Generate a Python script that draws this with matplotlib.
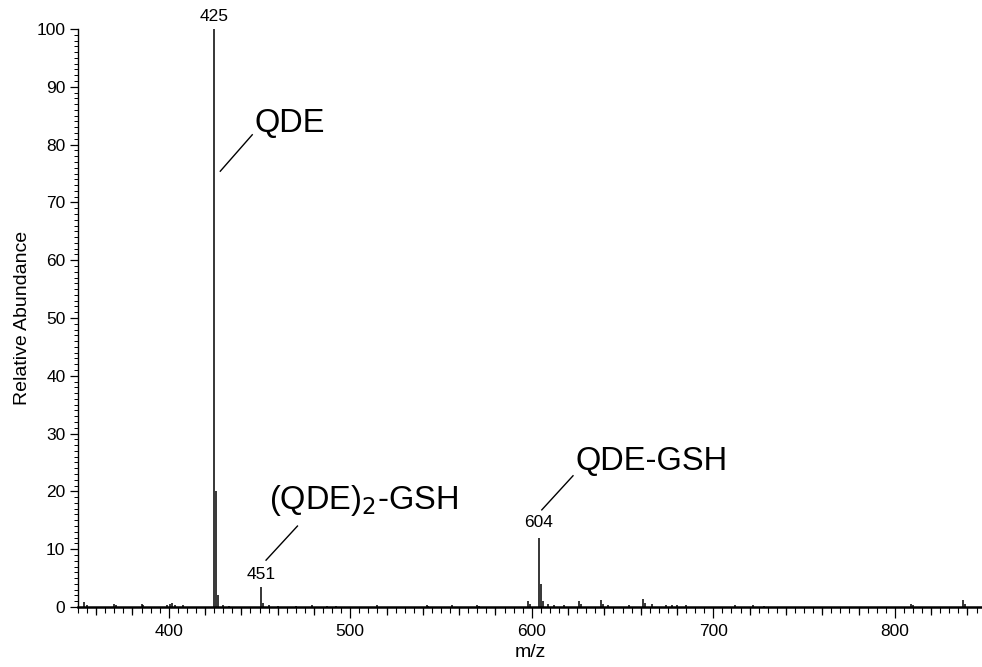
import matplotlib
matplotlib.use("Agg")
import matplotlib.pyplot as plt
from matplotlib.ticker import MultipleLocator

plt.rcParams['font.family'] = ['Liberation Sans', 'DejaVu Sans']

# Peak list (m/z, relative abundance)
mz = [353.5, 355, 370, 371, 385, 386, 399, 400.5, 402, 403.5, 408,
      425, 426, 427, 430, 433, 451, 452, 455, 460, 470, 479, 487, 492,
      515, 542, 543, 556, 570, 571, 598, 599, 604, 605, 606, 609, 612,
      617.5, 626, 627, 638, 639, 642, 653.5, 661.5, 662.5, 666, 674, 677,
      680, 685, 712, 722, 728, 809, 810, 837.5, 838.5]
abund = [0.9, 0.4, 0.5, 0.3, 0.5, 0.3, 0.4, 0.6, 0.7, 0.4, 0.3,
         100, 20, 2.0, 0.3, 0.2, 3.5, 0.7, 0.3, 0.2, 0.2, 0.3, 0.2, 0.2,
         0.3, 0.3, 0.2, 0.3, 0.3, 0.2, 1.0, 0.5, 12, 4.0, 1.0, 0.6, 0.3,
         0.4, 1.1, 0.5, 1.2, 0.6, 0.4, 0.3, 1.3, 0.7, 0.5, 0.3, 0.4,
         0.3, 0.3, 0.3, 0.3, 0.2, 0.6, 0.4, 1.2, 0.5]

peak_labels = ["425", "451", "604"]
peak_label_x = [425, 451, 604]
peak_label_y = [100.8, 4.3, 13.4]

fig = plt.figure(figsize=(9.82, 6.67), dpi=100)
ax = fig.add_axes([0.0794, 0.09, 0.9206, 0.8665])

ax.vlines(mz, 0, abund, colors='black', linewidth=1.1)

ax.set_xlim(350, 848)
ax.set_ylim(0, 100)
ax.spines['top'].set_visible(False)
ax.spines['right'].set_visible(False)
ax.spines['bottom'].set_linewidth(1.8)
ax.spines['left'].set_linewidth(1.0)

ax.xaxis.set_major_locator(MultipleLocator(100))
ax.xaxis.set_minor_locator(MultipleLocator(5))
ax.yaxis.set_major_locator(MultipleLocator(10))
ax.yaxis.set_minor_locator(MultipleLocator(1))

# longer ticks every 20 on x (unlabelled)
for v in range(360, 850, 20):
    if v % 100 != 0:
        ax.plot([v, v], [0, -1.35], color='black', lw=0.9, clip_on=False,
                solid_capstyle='butt')

ax.tick_params(axis='x', which='major', length=8, width=0.9, labelsize=12.5, pad=4)
ax.tick_params(axis='x', which='minor', length=4, width=0.8)
ax.tick_params(axis='y', which='major', length=6, width=0.9, labelsize=12.5, pad=3)
ax.tick_params(axis='y', which='minor', length=3, width=0.7)

ax.set_xlabel('m/z', fontsize=14, labelpad=4)
ax.set_ylabel('Relative Abundance', fontsize=14, labelpad=4)

for t, x, y in zip(peak_labels, peak_label_x, peak_label_y):
    ax.text(x, y, t, ha='center', va='bottom', fontsize=12.5)

# annotations with leader lines
ax.plot([428.4, 446.0], [75.4, 81.7], color='black', lw=1.0)
ax.text(447, 83.7, 'QDE', fontsize=23.5, ha='left', va='center')

ax.plot([453.6, 470.9], [8.1, 14.0], color='black', lw=1.0)
ax.text(455.4, 18.5, r'(QDE)$_2$-GSH', fontsize=23.5, ha='left', va='center')

ax.plot([605.5, 622.7], [16.8, 22.7], color='black', lw=1.0)
ax.text(624.2, 25.1, 'QDE-GSH', fontsize=23.5, ha='left', va='center')

fig.savefig('out.png', dpi=100)
